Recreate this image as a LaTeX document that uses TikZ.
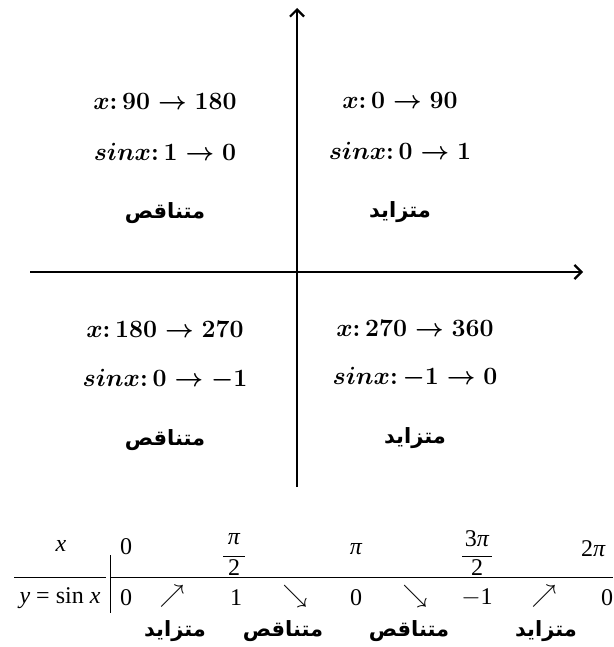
\documentclass[tikz,border=0pt]{standalone}
\usepackage{amsmath, amssymb}
\usepackage{bm}
\usepackage{fontspec}
\setmainfont{Liberation Serif}
\newfontfamily\arabicfont[Script=Arabic]{DejaVu Sans}
\TeXXeTstate=1
\usetikzlibrary{arrows.meta, positioning}
\newcommand{\arabTxt}[1]{\arabicfont\beginR #1\endR}
\tikzset{
    sinAxis/.style={line width=2.2pt, -{Straight Barb[length=7pt, width=14pt, line width=2.2pt]}},
    quadText/.style={font=\fontsize{28}{32}\selectfont\boldmath, inner sep=0pt},
    arabLabel/.style={font=\fontsize{21}{24}\selectfont\bfseries, inner sep=0pt},
    tabText/.style={font=\fontsize{24}{28}\selectfont, inner sep=0pt},
    tabLine/.style={line width=1pt},
    fracBar/.style={line width=1pt},
}

\begin{document}
\begin{tikzpicture}[x=1pt, y=-1pt]
    \useasboundingbox (0,0) rectangle (613,647);

    % AXES
    \coordinate (yBot) at (297,487);
    \coordinate (yTop) at (297,8);
    \coordinate (xLeft) at (30,272);
    \coordinate (xRight) at (583,272);
    \draw[sinAxis] (yBot) -- (yTop);
    \draw[sinAxis] (xLeft) -- (xRight);

    % QUADRANTS
    \node[quadText] (qOneX) at (400,100) {$x{:}\,0 \to 90$};
    \node[quadText] (qOneS) at (400,151) {$sinx{:}\,0 \to 1$};
    \node[arabLabel] (qOneA) at (400,212) {\arabTxt{متزايد}};

    \node[quadText] (qTwoX) at (165,101) {$x{:}\,90 \to 180$};
    \node[quadText] (qTwoS) at (165,152) {$sinx{:}\,1 \to 0$};
    \node[arabLabel] (qTwoA) at (165,213) {\arabTxt{متناقص}};

    \node[quadText] (qThreeX) at (165,329) {$x{:}\,180 \to 270$};
    \node[quadText] (qThreeS) at (165,380) {$sinx{:}\,0 \to {-1}$};
    \node[arabLabel] (qThreeA) at (165,440) {\arabTxt{متناقص}};

    \node[quadText] (qFourX) at (415,328) {$x{:}\,270 \to 360$};
    \node[quadText] (qFourS) at (415,378) {$sinx{:}\,{-1} \to 0$};
    \node[arabLabel] (qFourA) at (415,438) {\arabTxt{متزايد}};

    % VARIATION TABLE
    \node[tabText] (hX) at (61,546) {\itshape x};
    \node[tabText] (hY) at (60,598) {{\itshape y} = sin {\itshape x}};
    \draw[tabLine] (14,577) -- (106,577);
    \draw[tabLine] (110,555) -- (110,613);
    \draw[tabLine] (110,577) -- (613,577);

    \node[tabText] (tZero) at (126,547) {0};
    \node[tabText] (tHalfN) at (234,539) {\itshape π};
    \node[tabText] (tHalfD) at (234,568) {2};
    \draw[fracBar] (223,556) -- (245,556);
    \node[tabText] (tPi) at (356,549) {\itshape π};
    \node[tabText] (tThreeN) at (477,539) {3\itshape π};
    \node[tabText] (tThreeD) at (477,568) {2};
    \draw[fracBar] (462,556) -- (492,556);
    \node[tabText, anchor=west] (tTwo) at (581,549) {2\itshape π};

    \node[tabText] (vA) at (126,598) {0};
    \node[tabText] (uA) at (172,596) {$\nearrow$};
    \node[tabText] (vB) at (236,598) {1};
    \node[tabText] (uB) at (295,596) {$\searrow$};
    \node[tabText] (vC) at (356,598) {0};
    \node[tabText] (uC) at (415,596) {$\searrow$};
    \node[tabText] (vD) at (477,598) {$-$1};
    \node[tabText] (uD) at (544,596) {$\nearrow$};
    \node[tabText, anchor=west] (vE) at (601,598) {0};

    \node[arabLabel] (aA) at (175,631) {\arabTxt{متزايد}};
    \node[arabLabel] (aB) at (283,631) {\arabTxt{متناقص}};
    \node[arabLabel] (aC) at (409,631) {\arabTxt{متناقص}};
    \node[arabLabel] (aD) at (546,631) {\arabTxt{متزايد}};
\end{tikzpicture}
\end{document}
